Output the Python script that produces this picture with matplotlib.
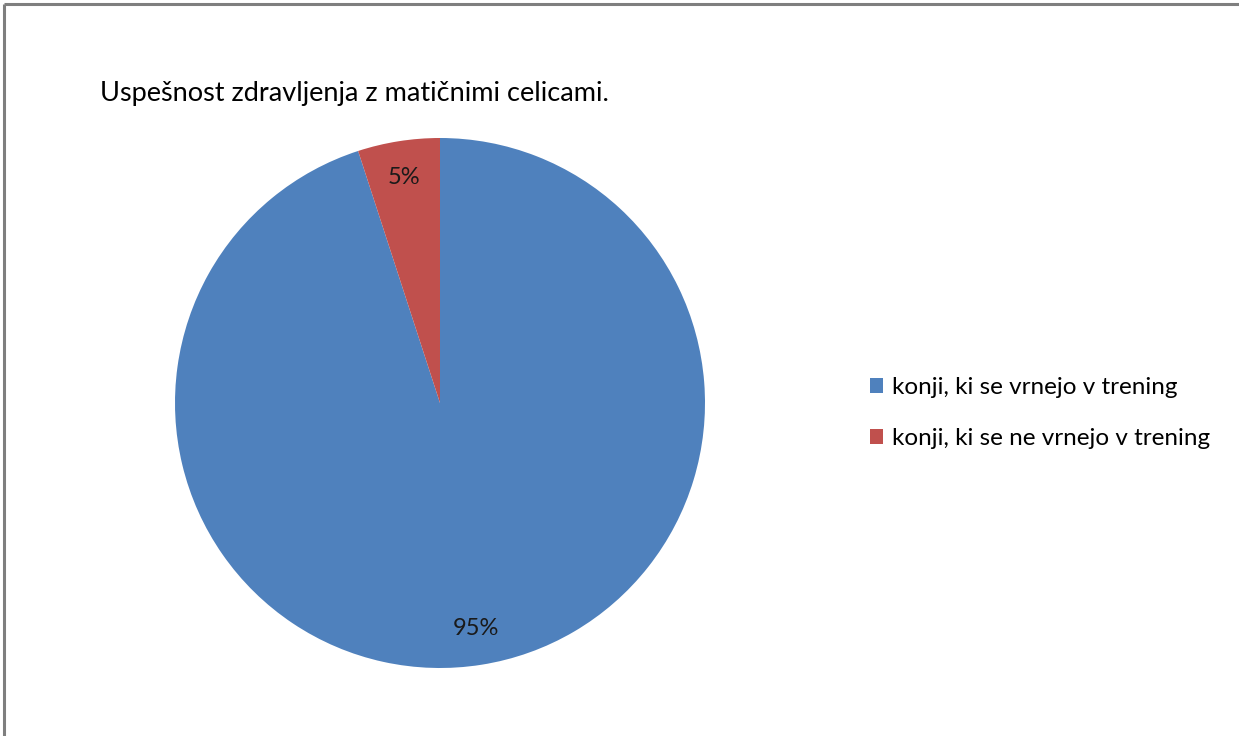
import matplotlib
matplotlib.use("Agg")
import matplotlib.pyplot as plt
from matplotlib.lines import Line2D
from matplotlib.patches import Patch

plt.rcParams['font.family'] = ['Lato', 'DejaVu Sans']

title = "Uspešnost zdravljenja z matičnimi celicami."
categories = ["konji, ki se vrnejo v trening", "konji, ki se ne vrnejo v trening"]
values = [95, 5]
colors = ["#4F81BD", "#C0504D"]

W, H = 1239, 736
fig = plt.figure(figsize=(W / 100, H / 100), dpi=100)
fig.patch.set_facecolor("white")

# chart-area frame: top and left edges
frame_kw = dict(transform=fig.transFigure, color="#7f7f7f", linewidth=2.2,
                solid_capstyle="butt")
fig.add_artist(Line2D([4 / W, 1.05], [1 - 4 / H, 1 - 4 / H], **frame_kw))
fig.add_artist(Line2D([4 / W, 4 / W], [-0.05, 1 - 4 / H], **frame_kw))

cx, cy, r = 440, 403, 265
ax = fig.add_axes([(cx - r) / W, (H - cy - r) / H, 2 * r / W, 2 * r / H])
wedges, texts, autotexts = ax.pie(
    values, colors=colors, startangle=90, counterclock=False,
    autopct="%d%%", pctdistance=0.86, radius=1,
    textprops=dict(fontsize=17, color="#1a1a1a"))
ax.set_xlim(-1, 1)
ax.set_ylim(-1, 1)
ax.set_aspect("equal")
ax.axis("off")

fig.text(100 / W, 1 - 94 / H, title, fontsize=19.5, ha="left", va="center", color="#000000")

handles = [Patch(facecolor=c, edgecolor="none") for c in colors]
leg = fig.legend(handles, categories, loc="center left", bbox_to_anchor=(848 / W, 1 - 413 / H),
                 frameon=False, fontsize=17.5, handlelength=0.55, handleheight=0.55,
                 handletextpad=0.35, labelspacing=1.25)

fig.savefig("out.png", dpi=100, facecolor="white")
